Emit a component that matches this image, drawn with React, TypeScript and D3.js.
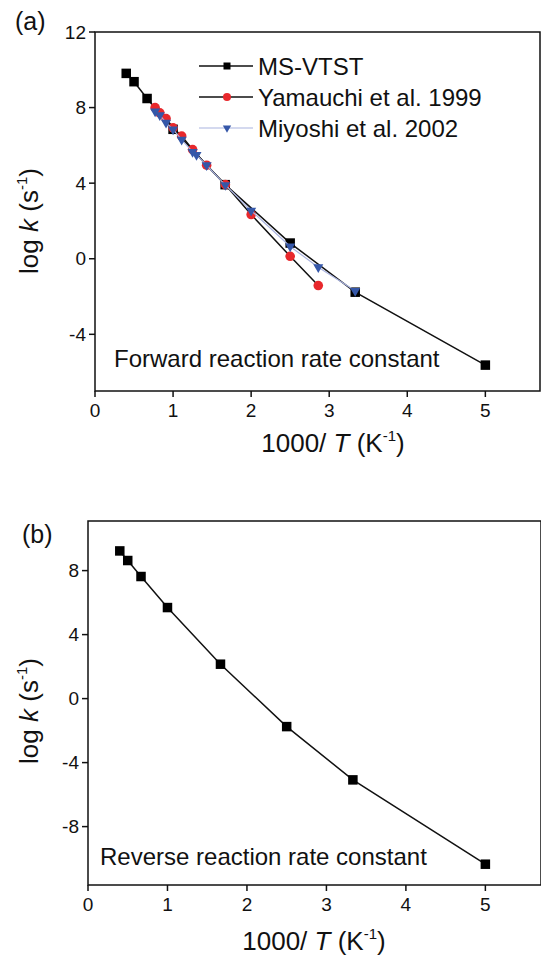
import * as d3 from "d3";

// forward rate constant, panel (a)
const msX = [0.4, 0.5, 0.667, 1.0, 1.667, 2.5, 3.333, 5.0];
const msFwd = [9.81, 9.37, 8.48, 6.85, 3.92, 0.83, -1.77, -5.63];

const yamX = [0.77, 0.83, 0.91, 1.0, 1.11, 1.25, 1.43, 1.67, 2.0, 2.5, 2.86];
const yamY = [8.0, 7.72, 7.42, 6.93, 6.49, 5.78, 4.95, 3.92, 2.34, 0.13, -1.42];

const miyX = [0.77, 0.83, 0.91, 1.0, 1.11, 1.25, 1.3, 1.43, 1.67, 2.0, 2.5, 2.86, 3.333];
const miyY = [7.8, 7.6, 7.2, 6.85, 6.3, 5.65, 5.5, 4.95, 3.9, 2.55, 0.65, -0.45, -1.7];

// reverse rate constant, panel (b)
const msRev = [9.23, 8.63, 7.63, 5.69, 2.15, -1.75, -5.08, -10.35];

const xTicks = [0, 1, 2, 3, 4, 5];
const yTicksA = [-4, 0, 4, 8, 12];
const yTicksB = [-8, -4, 0, 4, 8];

const legendNames = ["MS-VTST", "Yamauchi et al. 1999", "Miyoshi et al. 2002"];

const FONT = "'Liberation Sans', Arial, Helvetica, sans-serif";
const RED = "#e8282c";
const BLUE = "#3557a8";
const LIGHTBLUE = "#aab4e0";

const zip = (xs: number[], ys: number[]) => xs.map((x, i) => [x, ys[i]] as [number, number]);

const triDown = d3.symbol().type(d3.symbolTriangle).size(44)();

function Square({ x, y, s = 9.5 }: { x: number; y: number; s?: number }) {
  return <rect x={x - s / 2} y={y - s / 2} width={s} height={s} fill="#000" />;
}

function Axes({ x, y, yTicks }: { x: d3.ScaleLinear<number, number>; y: d3.ScaleLinear<number, number>; yTicks: number[] }) {
  const [x0, x1] = x.range();
  const [y0, y1] = y.range();
  return (
    <g fontFamily={FONT} fontSize={19} fill="#111">
      <rect x={x0} y={y1} width={x1 - x0} height={y0 - y1} fill="none" stroke="#111" strokeWidth={1.5} />
      {xTicks.map((t) => (
        <g key={"x" + t}>
          <line x1={x(t)} x2={x(t)} y1={y0} y2={y0 + 6} stroke="#111" strokeWidth={1.5} />
          <text x={x(t)} y={y0 + 26} textAnchor="middle">{t}</text>
        </g>
      ))}
      {yTicks.map((t) => (
        <g key={"y" + t}>
          <line x1={x0 - 6} x2={x0} y1={y(t)} y2={y(t)} stroke="#111" strokeWidth={1.5} />
          <text x={x0 - 9} y={y(t)} dy="0.35em" textAnchor="end">{t}</text>
        </g>
      ))}
    </g>
  );
}

function YLabel({ cx, cy }: { cx: number; cy: number }) {
  return (
    <text transform={`translate(${cx},${cy}) rotate(-90)`} textAnchor="middle" fontFamily={FONT} fontSize={26} fill="#111">
      log <tspan fontStyle="italic">k</tspan> (s<tspan fontSize={15} dy={-11}>-1</tspan><tspan dy={11}>)</tspan>
    </text>
  );
}

function XLabel({ cx, by }: { cx: number; by: number }) {
  return (
    <text x={cx} y={by} textAnchor="middle" fontFamily={FONT} fontSize={26} fill="#111">
      1000/ <tspan fontStyle="italic">T</tspan> (K<tspan fontSize={15} dy={-11}>-1</tspan><tspan dy={11}>)</tspan>
    </text>
  );
}

export default function App() {
  const xA = d3.scaleLinear().domain([0, 5.7]).range([95, 540]);
  const yA = d3.scaleLinear().domain([-7, 12]).range([391, 32]);
  const xB = d3.scaleLinear().domain([0, 5.7]).range([88, 541]);
  const yB = d3.scaleLinear().domain([-11.65, 11.1]).range([885, 521]);

  const lineA = d3.line<[number, number]>().x((d) => xA(d[0])).y((d) => yA(d[1]));
  const lineB = d3.line<[number, number]>().x((d) => xB(d[0])).y((d) => yB(d[1]));

  const ms = zip(msX, msFwd);
  const yam = zip(yamX, yamY);
  const miy = zip(miyX, miyY);
  const rev = zip(msX, msRev);

  const legY = [66, 97, 128];

  return (
    <svg width={541} height={959} style={{ position: "absolute", left: 0, top: 0, background: "#fff" }}>
      <rect width={541} height={959} fill="#fff" />

      {/* panel (a) */}
      <text x={15} y={30} fontFamily={FONT} fontSize={25} fill="#111">(a)</text>
      <Axes x={xA} y={yA} yTicks={yTicksA} />
      <YLabel cx={38} cy={221} />
      <XLabel cx={333} by={452} />

      <path d={lineA(ms) ?? ""} fill="none" stroke="#111" strokeWidth={1.5} />
      {ms.map((d, i) => <Square key={"ms" + i} x={xA(d[0])} y={yA(d[1])} />)}

      <path d={lineA(yam) ?? ""} fill="none" stroke="#111" strokeWidth={1.5} />
      {yam.map((d, i) => <circle key={"ya" + i} cx={xA(d[0])} cy={yA(d[1])} r={4.8} fill={RED} />)}

      <path d={lineA(miy) ?? ""} fill="none" stroke={LIGHTBLUE} strokeWidth={1.2} />
      {miy.map((d, i) => (
        <path key={"mi" + i} d={triDown ?? ""} transform={`translate(${xA(d[0])},${yA(d[1])}) rotate(180)`} fill={BLUE} />
      ))}

      {/* legend */}
      <g fontFamily={FONT} fontSize={24} fill="#111">
        {legendNames.map((name, i) => {
          const ly = legY[i];
          const stroke = i === 2 ? LIGHTBLUE : "#111";
          return (
            <g key={name}>
              <line x1={199} x2={253} y1={ly} y2={ly} stroke={stroke} strokeWidth={i === 2 ? 1.2 : 1.5} />
              {i === 0 && <Square x={227} y={ly} s={7} />}
              {i === 1 && <circle cx={227} cy={ly} r={4} fill={RED} />}
              {i === 2 && (
                <path d={d3.symbol().type(d3.symbolTriangle).size(30)() ?? ""} transform={`translate(227,${ly}) rotate(180)`} fill={BLUE} />
              )}
              <text x={258} y={ly} dy="0.36em">{name}</text>
            </g>
          );
        })}
      </g>
      <text x={114} y={367} fontFamily={FONT} fontSize={24} fill="#111">Forward reaction rate constant</text>

      {/* panel (b) */}
      <text x={22} y={543} fontFamily={FONT} fontSize={25} fill="#111">(b)</text>
      <Axes x={xB} y={yB} yTicks={yTicksB} />
      <YLabel cx={38} cy={711} />
      <XLabel cx={314} by={950} />

      <path d={lineB(rev) ?? ""} fill="none" stroke="#111" strokeWidth={1.5} />
      {rev.map((d, i) => <Square key={"rv" + i} x={xB(d[0])} y={yB(d[1])} />)}
      <text x={100} y={865} fontFamily={FONT} fontSize={24} fill="#111">Reverse reaction rate constant</text>
    </svg>
  );
}
